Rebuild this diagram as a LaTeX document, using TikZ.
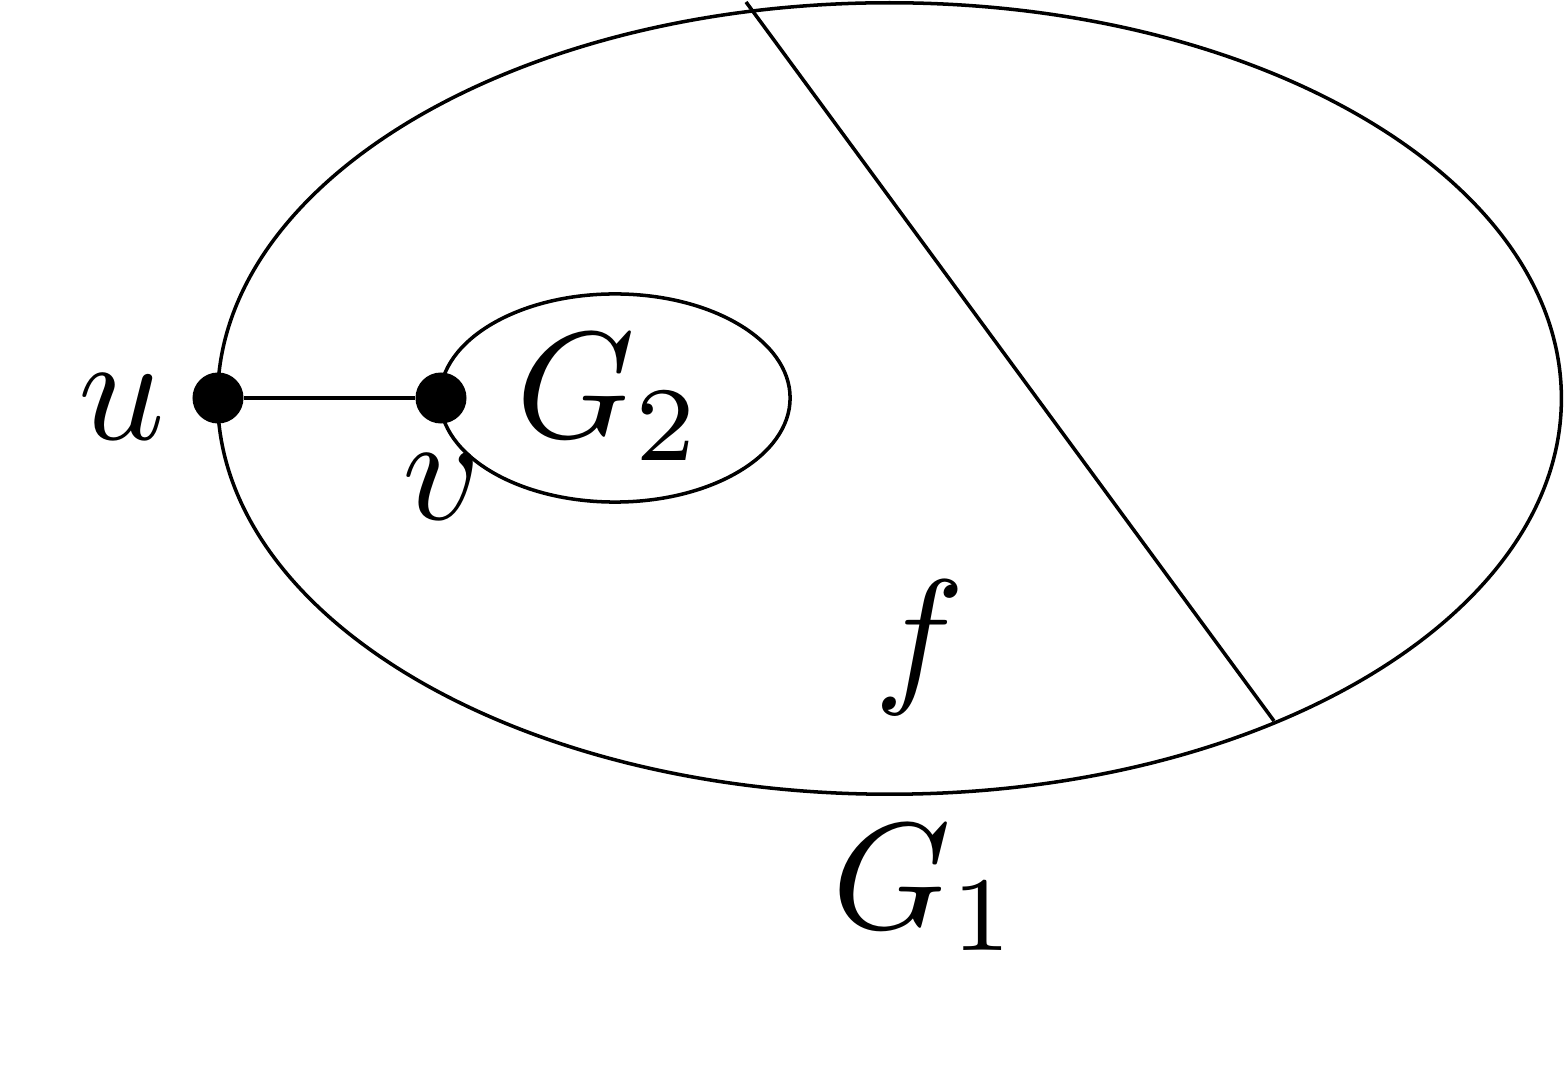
\documentclass[tikz,border=0pt]{standalone}
\begin{document}
\begin{tikzpicture}[x=0.01cm,y=-0.01cm,
  outline/.style={line width=1pt},
  vertex/.style={circle,fill=black,inner sep=0pt,minimum size=0.51cm},
  lbl/.style={scale=4.3,inner sep=0pt,anchor=base}]
\useasboundingbox (0,0) rectangle (1564,1080);
\coordinate (c1) at (889.5,398.5);
\coordinate (c2) at (615,398);
\draw[outline] (c1) ellipse [x radius=6.715cm, y radius=3.955cm];
\draw[outline] (c2) ellipse [x radius=1.75cm, y radius=1.04cm];
\coordinate (ftop) at (746,2);
\coordinate (fbot) at (1274,721);
\draw[outline] (ftop) -- (fbot);
\node[vertex] (u) at (218,398) {};
\node[vertex] (v) at (441,398) {};
\draw[outline] (u) -- (v);
\node[lbl] (lu) at (122,440) {$u$};
\node[lbl] (lv) at (442,520) {$v$};
\node[lbl] (lg2) at (610,438) {$G_2$};
\node[lbl] (lf) at (920,686) {$f$};
\node[lbl] (lg1) at (926,928) {$G_1$};
\end{tikzpicture}
\end{document}
